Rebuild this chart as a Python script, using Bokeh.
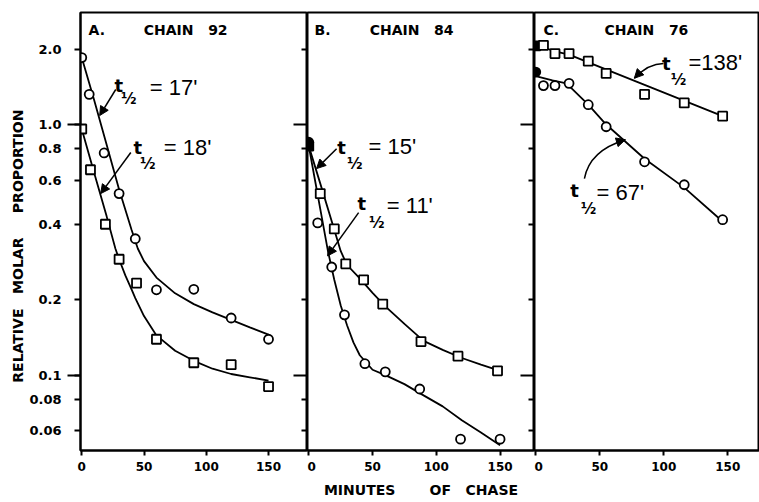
from bokeh.plotting import figure
from bokeh.layouts import row
from bokeh.models import Range1d, FixedTicker, LogAxis, Arrow, NormalHead, Label
from bokeh.embed import file_html
from bokeh.resources import INLINE

FONT = "DejaVu Sans"
THIN = "Liberation Sans"
NB = "\u00a0"

# ---------------- data ----------------
time_ticks = [0, 50, 100, 150]
y_ticks = [0.06, 0.08, 0.1, 0.2, 0.4, 0.6, 0.8, 1.0, 2.0]
y_tick_labels = ["0.06", "0.08", "0.1", "0.2", "0.4", "0.6", "0.8", "1.0", "2.0"]
y_decades = [0.1, 1.0]
y_inner_minor = [0.06, 0.08, 0.2, 0.4, 0.6, 0.8, 2.0]

panel_letters = ["A.", "B.", "C."]
panel_chains = ["CHAIN" + NB * 3 + "92", "CHAIN" + NB * 3 + "84", "CHAIN" + NB * 3 + "76"]

# Panel A - chain 92
a_circle_t = [0, 6, 18, 30, 43, 60, 90, 120, 150]
a_circle_v = [1.85, 1.32, 0.77, 0.53, 0.35, 0.219, 0.22, 0.169, 0.139]
a_square_t = [0, 7, 19, 30, 44, 60, 90, 120, 150]
a_square_v = [0.96, 0.66, 0.40, 0.29, 0.233, 0.139, 0.112, 0.110, 0.090]
a_fit1_t = [0, 10, 20, 30, 40, 45, 50, 60, 75, 90, 105, 120, 135, 150]
a_fit1_v = [1.85, 1.25, 0.83, 0.55, 0.38, 0.32, 0.285, 0.245, 0.212, 0.192, 0.178, 0.166, 0.155, 0.145]
a_fit2_t = [0, 10, 20, 27, 30, 35, 40, 43, 50, 60, 75, 90, 105, 120, 135, 150]
a_fit2_v = [0.96, 0.64, 0.43, 0.32, 0.29, 0.25, 0.22, 0.203, 0.172, 0.144, 0.125, 0.114, 0.106, 0.101, 0.098, 0.095]

# Panel B - chain 84
b_circle_t = [0, 7, 18, 28, 44, 60, 87, 119, 150]
b_circle_v = [0.85, 0.405, 0.27, 0.174, 0.111, 0.103, 0.088, 0.0555, 0.0555]
b_square_t = [0, 9, 20, 29, 43, 58, 88, 117, 148]
b_square_v = [0.82, 0.53, 0.383, 0.278, 0.24, 0.192, 0.136, 0.119, 0.104]
b_fit1_t = [0, 10, 20, 25, 30, 40, 50, 60, 75, 90, 105, 120, 135, 150]
b_fit1_v = [0.82, 0.56, 0.38, 0.313, 0.275, 0.243, 0.213, 0.188, 0.16, 0.137, 0.126, 0.117, 0.11, 0.104]
b_fit2_t = [0, 5, 10, 15, 20, 25, 30, 35, 40, 50, 60, 75, 90, 105, 120, 135, 150]
b_fit2_v = [0.82, 0.595, 0.432, 0.313, 0.24, 0.19, 0.158, 0.135, 0.12, 0.105, 0.1, 0.092, 0.083, 0.075, 0.066, 0.059, 0.0525]

# Panel C - chain 76
c_square_t = [0, 6, 15, 26, 41, 55, 85, 116, 146]
c_square_v = [2.06, 2.07, 1.92, 1.92, 1.79, 1.60, 1.32, 1.22, 1.08]
c_circle_t = [0, 6, 15, 26, 41, 55, 85, 116, 146]
c_circle_v = [1.62, 1.43, 1.43, 1.46, 1.20, 0.98, 0.71, 0.575, 0.417]
c_fit1_t = [0, 6, 15, 26, 146]
c_fit1_v = [2.05, 2.03, 1.96, 1.90, 1.08]
c_fit2_t = [0, 13, 24, 41, 55, 85, 116, 146]
c_fit2_v = [1.56, 1.50, 1.46, 1.20, 1.00, 0.73, 0.56, 0.41]

half_life_texts = ["= 17'", "= 18'", "= 15'", "= 11'", "=138'", "= 67'"]

Y_LABEL = "RELATIVE" + NB * 3 + "MOLAR" + NB * 5 + "PROPORTION" + NB * 6
X_LABEL = "MINUTES" + NB * 7 + "OF" + NB * 3 + "CHASE"


def make_panel(width, x_end, border_left, left_axis, inner_right, xlabel):
    p = figure(width=width, height=502, y_axis_type="log",
               x_range=Range1d(-1, x_end), y_range=Range1d(0.05, 2.8),
               y_axis_location="left" if left_axis else None,
               output_backend="svg", toolbar_location=None,
               min_border_left=border_left, min_border_right=0,
               min_border_top=12, min_border_bottom=52)
    p.grid.visible = False
    p.outline_line_color = "black"
    p.outline_line_width = 2
    p.background_fill_color = "white"
    p.border_fill_color = "white"

    xa = p.xaxis[0]
    xa.ticker = FixedTicker(ticks=time_ticks, minor_ticks=[])
    xa.axis_line_width = 2
    xa.major_tick_line_width = 2
    xa.major_tick_out = 5
    xa.major_tick_in = 0
    xa.major_label_standoff = 6
    xa.major_label_text_font = FONT
    xa.major_label_text_font_style = "bold"
    xa.major_label_text_font_size = "12px"
    xa.major_label_text_color = "black"
    xa.axis_label = xlabel
    xa.axis_label_standoff = 8
    xa.axis_label_text_font = FONT
    xa.axis_label_text_font_style = "bold"
    xa.axis_label_text_font_size = "14px"
    xa.axis_label_text_color = "black"

    if left_axis:
        ya = p.yaxis[0]
        ya.ticker = FixedTicker(ticks=y_ticks, minor_ticks=y_decades)
        ya.major_label_overrides = {t: s for t, s in zip(y_ticks, y_tick_labels)}
        ya.axis_line_width = 2
        ya.major_tick_line_width = 2
        ya.minor_tick_line_width = 2
        ya.major_tick_out = 6
        ya.major_tick_in = 0
        ya.minor_tick_out = 13
        ya.minor_tick_in = 0
        ya.major_label_standoff = 6
        ya.major_label_text_font = FONT
        ya.major_label_text_font_style = "bold"
        ya.major_label_text_font_size = "13px"
        ya.major_label_text_color = "black"
        ya.axis_label = Y_LABEL
        ya.axis_label_standoff = 0
        ya.axis_label_text_font = FONT
        ya.axis_label_text_font_style = "bold"
        ya.axis_label_text_font_size = "14px"
        ya.axis_label_text_color = "black"

    if inner_right:
        ra = LogAxis(ticker=FixedTicker(ticks=y_decades, minor_ticks=y_inner_minor),
                     major_label_overrides={t: "" for t in y_decades},
                     major_label_standoff=0,
                     major_tick_in=14, major_tick_out=0,
                     minor_tick_in=6, minor_tick_out=0,
                     major_tick_line_width=2, minor_tick_line_width=2,
                     axis_line_color=None)
        p.add_layout(ra, "right")
    return p


def draw_series(p, ct, cv, st, sv, f1t, f1v, f2t, f2v, solid_start):
    p.line(f1t, f1v, line_color="black", line_width=1.8)
    p.line(f2t, f2v, line_color="black", line_width=1.8)
    cf = ["black" if (solid_start and t == 0) else "white" for t in ct]
    sf = ["black" if (solid_start and t == 0) else "white" for t in st]
    p.scatter(ct, cv, marker="circle", size=9, fill_color=cf,
              line_color="black", line_width=1.8)
    p.scatter(st, sv, marker="square", size=9, fill_color=sf,
              line_color="black", line_width=1.8)


def heading(p, letter, chain, xl, xc):
    p.add_layout(Label(x=xl, y=2.38, text=letter, text_font=FONT, text_font_style="bold",
                       text_font_size="14px", text_baseline="middle", text_align="left",
                       text_color="black"))
    p.add_layout(Label(x=xc, y=2.38, text=chain, text_font=FONT, text_font_style="bold",
                       text_font_size="14px", text_baseline="middle", text_align="left",
                       text_color="black"))


def half_life(p, txt, tx, ty, hx, hy, ex, ey):
    p.add_layout(Label(x=tx, y=ty, text="t", text_font=FONT, text_font_style="bold",
                       text_font_size="18px",
                       text_baseline="middle", text_align="center", text_color="black"))
    p.add_layout(Label(x=hx, y=hy, text="½", text_font=FONT, text_font_style="bold",
                       text_font_size="15px", text_baseline="middle", text_align="center",
                       text_color="black"))
    p.add_layout(Label(x=ex, y=ey, text=txt, text_font=THIN,
                       text_font_size="22px", text_baseline="middle", text_align="left",
                       text_color="black"))


def arrow(p, x0, y0, x1, y1):
    p.add_layout(Arrow(end=NormalHead(size=9, fill_color="black", line_color="black"),
                       x_start=x0, y_start=y0, x_end=x1, y_end=y1,
                       line_color="black", line_width=1.5))


def curved_arrow(p, x0, y0, cx, cy, x1, y1):
    p.quadratic(x0=[x0], y0=[y0], x1=[x1], y1=[y1], cx=[cx], cy=[cy],
                line_color="black", line_width=1.5)
    p.add_layout(Arrow(end=NormalHead(size=9, fill_color="black", line_color="black"),
                       x_start=cx, y_start=cy, x_end=x1, y_end=y1,
                       line_alpha=0))


# ---------------- Panel A ----------------
pa = make_panel(307, 181.3, 80, True, True, " ")
draw_series(pa, a_circle_t, a_circle_v, a_square_t, a_square_v,
            a_fit1_t, a_fit1_v, a_fit2_t, a_fit2_v, False)
heading(pa, panel_letters[0], panel_chains[0], 5.5, 49.8)
half_life(pa, half_life_texts[0], 29.7, 1.43, 37.7, 1.27, 54.7, 1.41)
arrow(pa, 27.3, 1.38, 14.4, 1.086)
half_life(pa, half_life_texts[1], 45.0, 0.809, 53.0, 0.698, 65.9, 0.809)
arrow(pa, 39.4, 0.773, 15.2, 0.53)

# ---------------- Panel B ----------------
pb = make_panel(227, 177.0, 0, False, True, X_LABEL)
draw_series(pb, b_circle_t, b_circle_v, b_square_t, b_square_v,
            b_fit1_t, b_fit1_v, b_fit2_t, b_fit2_v, True)
heading(pb, panel_letters[1], panel_chains[1], 4.5, 47.8)
half_life(pb, half_life_texts[2], 25.7, 0.809, 36.0, 0.698, 46.9, 0.817)
arrow(pb, 21.8, 0.80, 6.1, 0.667)
half_life(pb, half_life_texts[3], 41.5, 0.483, 53.3, 0.405, 61.2, 0.474)
arrow(pb, 39.1, 0.445, 14.7, 0.299)

# ---------------- Panel C ----------------
pc = make_panel(225, 174.8, 0, False, False, " ")
draw_series(pc, c_circle_t, c_circle_v, c_square_t, c_square_v,
            c_fit1_t, c_fit1_v, c_fit2_t, c_fit2_v, True)
heading(pc, panel_letters[2], panel_chains[2], 6.0, 53.7)
half_life(pc, half_life_texts[4], 102.0, 1.753, 111.5, 1.5, 119.3, 1.77)
curved_arrow(pc, 99.8, 1.753, 88.0, 1.753, 77.0, 1.53)
half_life(pc, half_life_texts[5], 30.2, 0.544, 41.2, 0.461, 47.4, 0.534)
curved_arrow(pc, 38.0, 0.608, 41.9, 0.787, 70.0, 0.87)

layout = row(pa, pb, pc, spacing=0)
open("out.html", "w").write(file_html(layout, INLINE))
